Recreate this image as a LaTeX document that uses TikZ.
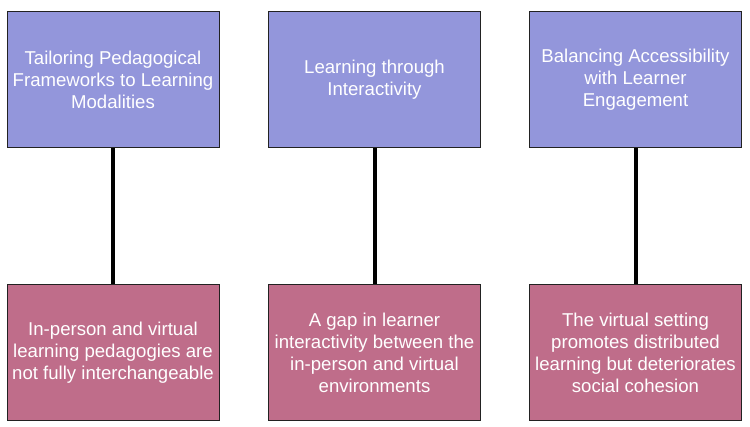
\documentclass[tikz,border=0pt]{standalone}
\usepackage{fontspec}
\setmainfont{Liberation Sans}
\definecolor{topfill}{HTML}{9396DB}
\definecolor{botfill}{HTML}{BF6D8A}
\definecolor{edge}{HTML}{222222}
\begin{document}
\begin{tikzpicture}[x=1pt,y=-1pt,
  box/.style={draw=edge,line width=1pt,minimum width=212pt,minimum height=136pt,inner sep=0pt,
    align=center,text=white,font=\fontsize{18.6pt}{22pt}\selectfont},
  topbox/.style={box,fill=topfill},
  botbox/.style={box,fill=botfill},
  conn/.style={line width=4pt,black}]
\useasboundingbox (0,0) rectangle (750,427);
\node[topbox] (t1) at (113,79.5) {Tailoring Pedagogical\\Frameworks to Learning\\Modalities};
\node[topbox] (t2) at (374.5,79.5) {Learning through\\Interactivity};
\node[topbox] (t3) at (635.5,79.5) {Balancing Accessibility\\with Learner\\Engagement};
\node[botbox] (b1) at (113,353) {In-person and virtual\\learning pedagogies are\\not fully interchangeable};
\node[botbox] (b2) at (374.5,353) {A gap in learner\\interactivity between the\\in-person and virtual\\environments};
\node[botbox] (b3) at (635.5,353) {The virtual setting\\promotes distributed\\learning but deteriorates\\social cohesion};
\draw[conn] (t1) -- (b1);
\draw[conn] (t2) -- (b2);
\draw[conn] (t3) -- (b3);
\end{tikzpicture}
\end{document}
